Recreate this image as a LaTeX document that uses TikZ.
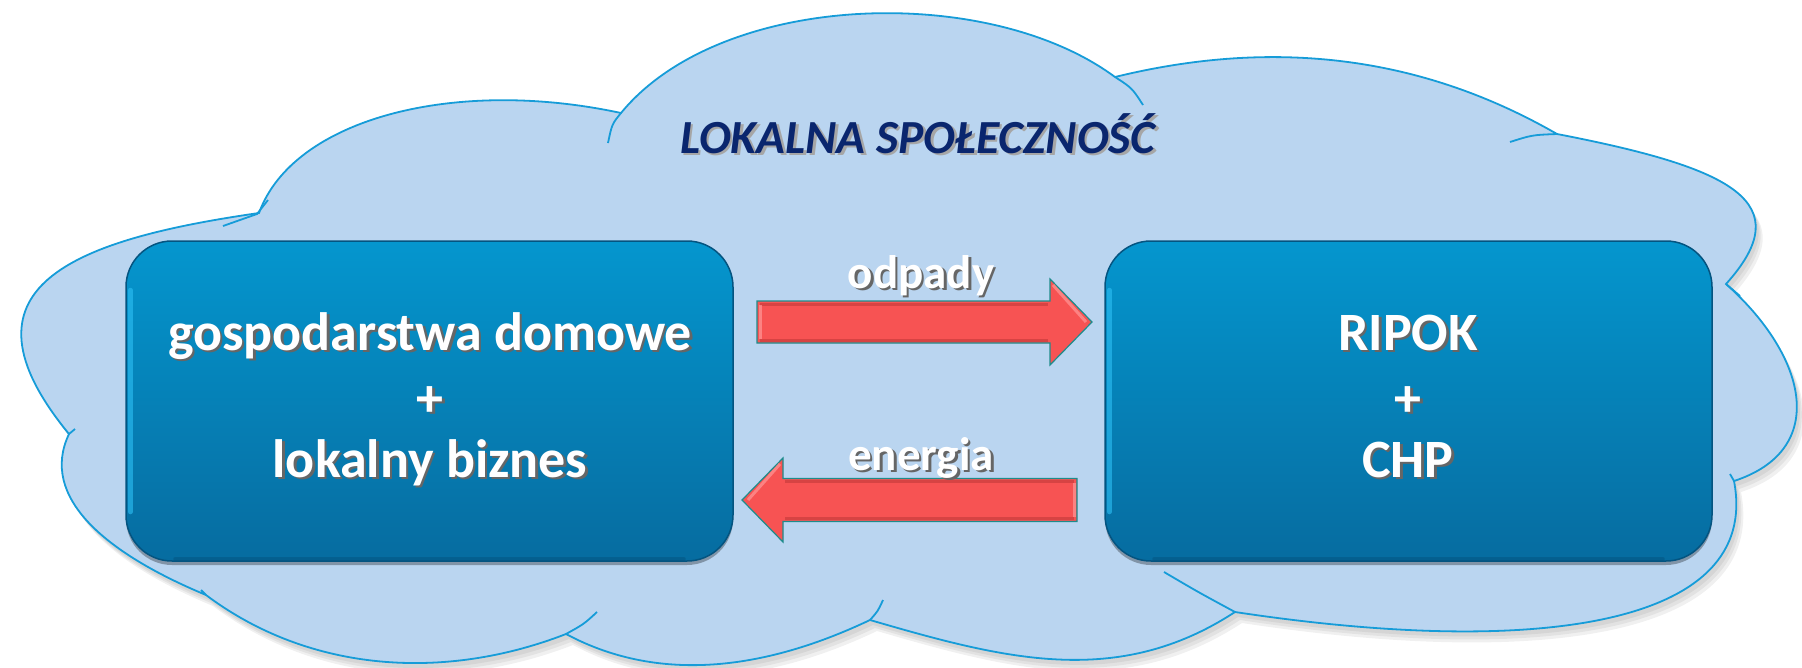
\documentclass[tikz,border=0pt]{standalone}
\usepackage{fontspec}
\setmainfont{Carlito}
\usetikzlibrary{calc}
\definecolor{cloudfill}{RGB}{186,213,240}
\definecolor{cloudline}{RGB}{22,156,216}
\definecolor{boxtop}{RGB}{5,150,206}
\definecolor{boxbot}{RGB}{6,108,160}
\definecolor{boxedge}{RGB}{4,84,128}
\definecolor{boxlight}{RGB}{45,192,245}
\definecolor{arrowred}{RGB}{247,83,83}
\definecolor{arrowdark}{RGB}{190,55,55}
\definecolor{arrowlight}{RGB}{255,150,150}
\definecolor{arrowedge}{RGB}{30,140,140}
\definecolor{titleblue}{RGB}{10,38,110}
\newcommand\cloudoutline{(69,434)
 .. controls (-51,288) and (71,240) .. (259,213)
 .. controls (293,119) and (454,77) .. (621,113)
 .. controls (721,-9) and (988,-17) .. (1115,77)
 .. controls (1270,39) and (1418,54) .. (1557,134)
 .. controls (1733,168) and (1800,202) .. (1726,284)
 .. controls (1808,357) and (1829,450) .. (1734,481)
 .. controls (1762,628) and (1532,657) .. (1235,612)
 .. controls (1117,689) and (1004,659) .. (870,620)
 .. controls (771,667) and (663,686) .. (566,634)
 .. controls (445,681) and (310,673) .. (206,595)
 .. controls (105,553) and (39,497) .. (69,434)
 -- cycle}
\newcommand\stxt[5]{%
  \node[#3,text=#5,anchor=base] at ($#2+(2.5,2.5)$) {#4};
  \node[#3,anchor=base] (#1) at #2 {#4};}
\begin{document}
\begin{tikzpicture}[x=1pt,y=-1pt,
  cloudst/.style={fill=cloudfill,draw=cloudline,line width=1.8},
  innerarc/.style={draw=cloudline,line width=1.8},
  boxst/.style={rounded corners=46,minimum width=607,minimum height=320,inner sep=0,
    top color=boxtop,bottom color=boxbot,draw=boxedge,line width=1.5,
    preaction={fill=black,opacity=.3,transform canvas={yshift=-4pt}}},
  boxtxt/.style={font=\fontsize{54}{60}\selectfont\bfseries,text=white,inner sep=0},
  lbltxt/.style={font=\fontsize{47}{52}\selectfont\bfseries,text=white,inner sep=0},
  titletxt/.style={font=\fontsize{47.5}{52}\selectfont\bfseries\itshape,text=titleblue,inner sep=0},
  arrowst/.style={fill=arrowred,draw=arrowedge,line width=1.2,line join=miter},
  bevdark/.style={draw=arrowdark,line width=3,opacity=.55},
  bevlight/.style={draw=arrowlight,line width=3,opacity=.7}]
\useasboundingbox (0,0) rectangle (1802,667);
% cloud shadow and cloud
\fill[black,opacity=.06,shift={(3,5)}] \cloudoutline;
\fill[black,opacity=.06,shift={(5,8)}] \cloudoutline;
\fill[black,opacity=.06,shift={(7,11)}] \cloudoutline;
\path[cloudst] \cloudoutline;
% inner arcs of the cloud
\draw[innerarc] (268,200) -- (257,214) -- (223,226);
\draw[innerarc] (621,113) .. controls (612,124) .. (608,143);
\draw[innerarc] (1115,77) .. controls (1132,88) .. (1143,105);
\draw[innerarc] (1557,134) .. controls (1532,135) .. (1510,142);
\draw[innerarc] (1726,284) -- (1740,296);
\draw[innerarc] (1734,481) -- (1730,474);
\draw[innerarc] (1235,612) .. controls (1198,592) .. (1164,572);
\draw[innerarc] (870,620) .. controls (878,611) .. (883,600);
\draw[innerarc] (566,634) .. controls (584,624) .. (597,612);
\draw[innerarc] (206,595) -- (201,590);
\draw[innerarc] (69,434) -- (75,429);
% title
\stxt{title}{(918,153)}{titletxt}{LOKALNA SPOŁECZNOŚĆ}{black!35}
% boxes
\node[boxst] (L) at (429.5,401) {};
\node[boxst] (R) at (1408.5,401) {};
\foreach \b in {L,R}{
  \draw[boxlight,line width=5,opacity=.6,line cap=round] ($(\b.north west)+(5,50)$) -- ($(\b.south west)+(5,-50)$);
  \draw[boxedge,line width=4,opacity=.5,line cap=round] ($(\b.south west)+(50,-3)$) -- ($(\b.south east)+(-50,-3)$);
}
\stxt{L1}{(430,350)}{boxtxt}{gospodarstwa domowe}{black!60}
\stxt{L2}{(430,416)}{boxtxt}{+}{black!60}
\stxt{L3}{(430,477)}{boxtxt}{lokalny biznes}{black!60}
\stxt{R1}{(1408,350)}{boxtxt}{RIPOK}{black!60}
\stxt{R2}{(1408,416)}{boxtxt}{+}{black!60}
\stxt{R3}{(1408,477)}{boxtxt}{CHP}{black!60}
% arrows
\coordinate (od1) at (757,322);
\coordinate (od2) at (1092,322);
\path[arrowst] ($(od1)+(0,-21)$) -- ($(od2)+(-42,-21)$) -- ($(od2)+(-42,-43)$) -- (od2)
  -- ($(od2)+(-42,43)$) -- ($(od2)+(-42,21)$) -- ($(od1)+(0,21)$) -- cycle;
\draw[bevdark] ($(od1)+(3,-18)$) -- ($(od2)+(-44,-18)$);
\draw[bevdark] ($(od1)+(3,18)$) -- ($(od2)+(-44,18)$);
\draw[bevlight] ($(od1)+(3,-17)$) -- ($(od1)+(3,17)$);
\draw[bevlight] ($(od2)+(-39,-37)$) -- ($(od2)+(-6,0)$);
\coordinate (en1) at (1077,500);
\coordinate (en2) at (742,500);
\path[arrowst] ($(en1)+(0,-21.5)$) -- ($(en2)+(41,-21.5)$) -- ($(en2)+(41,-42)$) -- (en2)
  -- ($(en2)+(41,42)$) -- ($(en2)+(41,21.5)$) -- ($(en1)+(0,21.5)$) -- cycle;
\draw[bevdark] ($(en1)+(-3,-18.5)$) -- ($(en2)+(43,-18.5)$);
\draw[bevdark] ($(en1)+(-3,18.5)$) -- ($(en2)+(43,18.5)$);
\draw[bevlight] ($(en1)+(-3,-17)$) -- ($(en1)+(-3,17)$);
\draw[bevlight] ($(en2)+(38,-36)$) -- ($(en2)+(6,0)$);
\stxt{odp}{(921,288)}{lbltxt}{odpady}{black!60}
\stxt{ene}{(921,470)}{lbltxt}{energia}{black!60}
\end{tikzpicture}
\end{document}
